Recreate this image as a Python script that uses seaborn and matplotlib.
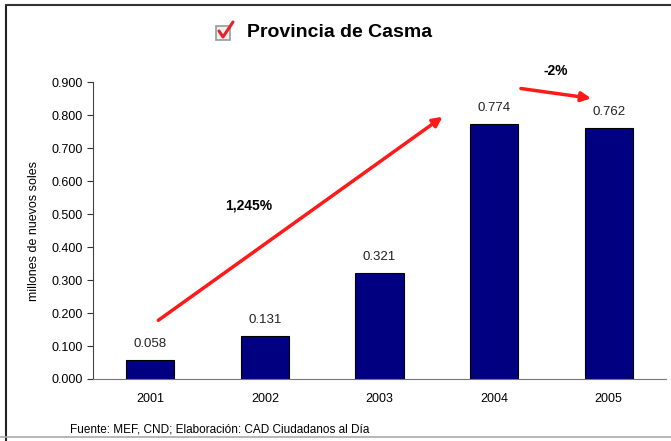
import numpy as np
import pandas as pd
import matplotlib.pyplot as plt
import matplotlib.lines as mlines
import matplotlib.patches as mpatches
import seaborn as sns

years = ['2001', '2002', '2003', '2004', '2005']
values = [0.058, 0.131, 0.321, 0.774, 0.762]
growth_labels = ['1,245%', '-2%']

sns.set_style('white')
plt.rcParams['font.family'] = ['Liberation Sans', 'DejaVu Sans']
plt.rcParams['text.color'] = 'black'
plt.rcParams['axes.labelcolor'] = 'black'
plt.rcParams['xtick.color'] = 'black'
plt.rcParams['ytick.color'] = 'black'

df = pd.DataFrame({'year': years, 'value': values})

fig = plt.figure(figsize=(6.71, 4.41), dpi=100)
ax = fig.add_axes([0.1386, 0.1406, 0.854, 0.673])

sns.barplot(data=df, x='year', y='value', color='#000080', edgecolor='black',
            linewidth=0.8, width=0.42, saturation=1, ax=ax)

for i, v in enumerate(values):
    ax.annotate(f'{v:.3f}', (i, v), xytext=(0, 7), textcoords='offset points',
                ha='center', va='bottom', fontsize=9.5, color='#222222')

ax.set_ylim(0, 0.9)
ax.set_xlim(-0.5, 4.5)
ax.set_yticks(np.arange(0, 0.901, 0.1))
ax.set_yticklabels([f'{t:.3f}' for t in np.arange(0, 0.901, 0.1)], fontsize=9)
ax.set_xticks(range(len(years)))
ax.set_xticklabels(years, fontsize=9)
ax.set_xticks(np.arange(0.5, 4.5, 1), minor=True)
ax.tick_params(axis='x', which='major', length=0, pad=10)
ax.tick_params(axis='x', which='minor', length=4, direction='inout', color='#333333')
ax.tick_params(axis='y', length=4, direction='out', color='#333333', left=True)
ax.set_xlabel('')
ax.set_ylabel('millones de nuevos soles', fontsize=9, labelpad=8)
sns.despine(ax=ax)
ax.spines['left'].set_color('#444444')
ax.spines['bottom'].set_color('#777777')

# growth arrows
ax.annotate('', xy=(2.57, 0.80), xytext=(0.05, 0.173),
            arrowprops=dict(arrowstyle='-|>', color='#ff1a1a', lw=2.5, mutation_scale=14))
ax.text(0.86, 0.527, growth_labels[0], fontsize=10, fontweight='bold', ha='center', va='center')
ax.annotate('', xy=(3.87, 0.850), xytext=(3.21, 0.882), annotation_clip=False,
            arrowprops=dict(arrowstyle='-|>', color='#ff1a1a', lw=2.5, mutation_scale=14))
ax.text(3.54, 0.935, growth_labels[1], fontsize=10, fontweight='bold', ha='center', va='center')

# title with checkbox icon
fig.text(0.368, 0.927, 'Provincia de Casma', fontsize=14, fontweight='bold', va='center', ha='left')
W, H = 671, 441
box = mpatches.Rectangle((216 / W, 1 - 40 / H), 14 / W, 14 / H, transform=fig.transFigure,
                         facecolor='#f0f0f0', edgecolor='#999999', lw=1.2)
fig.patches.append(box)
check = mlines.Line2D([219 / W, 223 / W, 233 / W], [1 - 31 / H, 1 - 37 / H, 1 - 22 / H],
                      transform=fig.transFigure, color='#e8202a', lw=2.2)
fig.lines.append(check)

fig.text(70 / W, 1 - 429 / H, 'Fuente: MEF, CND; Elaboración: CAD Ciudadanos al Día',
         fontsize=8.5, va='center', ha='left')

# frame around figure
fig.lines.append(mlines.Line2D([6 / W, 6 / W], [0, 1 - 5 / H], transform=fig.transFigure, color='#222222', lw=1.5))
fig.lines.append(mlines.Line2D([6 / W, 1], [1 - 5 / H, 1 - 5 / H], transform=fig.transFigure, color='#333333', lw=1.5))
fig.lines.append(mlines.Line2D([0, 1], [1 - 437 / H, 1 - 437 / H], transform=fig.transFigure, color='#aaaaaa', lw=1.2))

fig.savefig('out.png', dpi=100)
